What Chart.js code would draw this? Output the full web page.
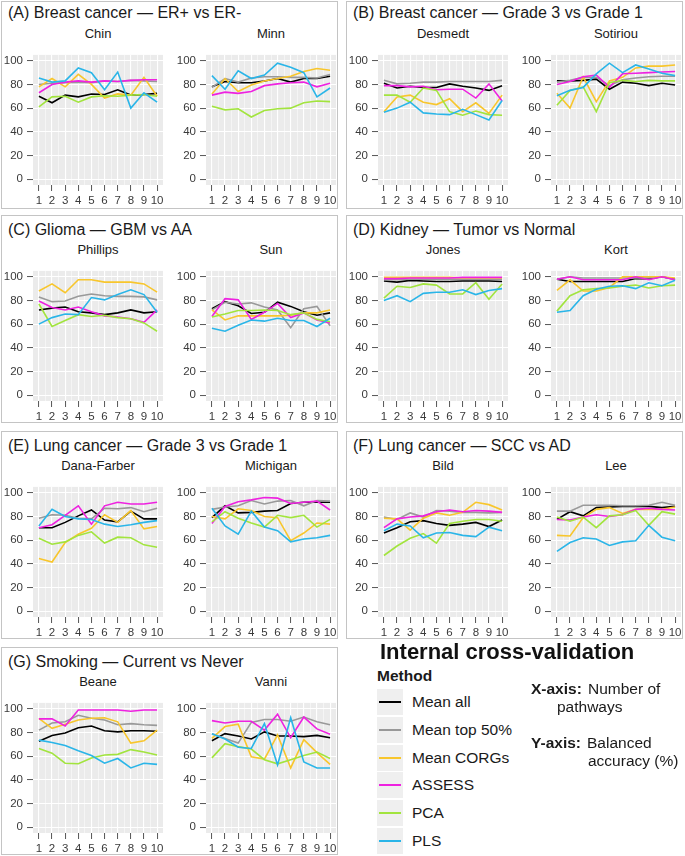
<!DOCTYPE html>
<html>
<head>
<meta charset="utf-8">
<script src="https://cdn.jsdelivr.net/npm/chart.js@4.4.1/dist/chart.umd.min.js"></script>
<style>
  html, body { margin: 0; padding: 0; background: #fff; }
  body { width: 685px; height: 856px; position: relative; overflow: hidden;
         font-family: "Liberation Sans", Arial, sans-serif; color: #1a1a1a; }
  .box { position: absolute; border: 1px solid #c4c4c4; box-sizing: border-box; }
  .title { position: absolute; font-size: 16px; line-height: 20px; white-space: nowrap; }
  .facet { position: absolute; font-size: 13px; line-height: 16px; text-align: center; white-space: nowrap; }
  canvas { position: absolute; }
  .lg { position: absolute; white-space: nowrap; font-size: 15.5px; line-height: 18px; }
  .key { position: absolute; left: 377px; width: 26px; height: 26px; background: #efefef; }
  .key span { position: absolute; left: 2px; right: 2px; top: 12px; height: 2px; }
</style>
</head>
<body>
<script>
// Internal cross-validation: 7 panels x 2 datasets, balanced accuracy vs number of pathways

const FONT = '"Liberation Sans", Arial, sans-serif';

const panelTitles = [
  '(A) Breast cancer — ER+ vs ER-',
  '(B) Breast cancer — Grade 3 vs Grade 1',
  '(C) Glioma — GBM vs AA',
  '(D) Kidney — Tumor vs Normal',
  '(E) Lung cancer — Grade 3 vs Grade 1',
  '(F) Lung cancer — SCC vs AD',
  '(G) Smoking — Current vs Never'
];
const datasetNames = ['Chin', 'Minn', 'Desmedt', 'Sotiriou', 'Phillips', 'Sun', 'Jones', 'Kort',
  'Dana-Farber', 'Michigan', 'Bild', 'Lee', 'Beane', 'Vanni'];
const pathways = [1, 2, 3, 4, 5, 6, 7, 8, 9, 10];
const yTicks = [0, 20, 40, 60, 80, 100];

const methods = ['Mean all', 'Mean top 50%', 'Mean CORGs', 'ASSESS', 'PCA', 'PLS'];
const methodColors = ['#000000', '#999999', '#F8C62C', '#EE22E0', '#A2E43E', '#2AB5E8'];

// one row per dataset, same order as datasetNames
const meanAll = [
  [70, 64.5, 71, 69.5, 72, 71.5, 75.5, 71, 71.5, 72.5],
  [78, 82.5, 81.5, 81.5, 83, 85, 82, 85, 85, 87],
  [81, 77, 78.5, 77.5, 77.5, 80.5, 78.5, 77, 75, 79],
  [83, 83, 83.5, 84.5, 76, 82, 81, 79, 81, 79.5],
  [72, 73.5, 74.5, 70.5, 69.5, 68, 69.5, 72, 69.5, 70.5],
  [73, 79, 75.5, 69, 70, 78.5, 75, 70.5, 67.5, 69.5],
  [96.5, 95.5, 97, 96.5, 96, 96, 96.5, 96.5, 96.5, 96],
  [98, 96, 96, 96, 96, 96, 98.5, 98.5, 100, 98],
  [70.5, 70.5, 75, 80.5, 85.5, 77, 75.5, 84.5, 78, 78],
  [79, 89, 83, 83.5, 84.5, 85, 91, 92, 92, 92],
  [66, 70.5, 75.5, 76.5, 74, 72.5, 73.5, 75, 71.5, 77],
  [77.5, 84, 80.5, 87.5, 88, 88.5, 88.5, 88.5, 87.5, 88.5],
  [72.5, 77.5, 79.5, 84, 85.5, 81.5, 80.5, 81.5, 81.5, 81],
  [73, 79, 77, 74.5, 80.5, 77, 77, 76.5, 77.5, 75.5]
];
const meanTop50 = [
  [80, 81, 81.5, 82, 81.5, 83, 82.5, 83.5, 83, 82.5],
  [77.5, 85, 82, 85.5, 86.5, 86.5, 86, 86, 85.5, 88.5],
  [83.5, 80.5, 81, 82, 82, 82.5, 82.5, 82.5, 82.5, 83.5],
  [82, 83.5, 86, 86, 79, 84, 85.5, 86.5, 87, 87],
  [83, 79, 79.5, 83.5, 85.5, 84, 83.5, 83.5, 83, 80.5],
  [72, 78.5, 77, 78, 74.5, 72, 57, 73, 75, 58.5],
  [97.5, 97.5, 98, 98, 98, 98, 98, 98, 98, 98],
  [98, 100, 99, 99, 99, 99, 99, 99, 100, 97.5],
  [78.5, 81.5, 81, 78.5, 78, 87, 86.5, 87.5, 84, 87],
  [86, 88, 89, 93.5, 90.5, 93, 93.5, 89, 93.5, 93],
  [79.5, 77.5, 83, 79.5, 85, 84.5, 83.5, 83.5, 83, 83.5],
  [84.5, 84.5, 89.5, 89.5, 89.5, 89, 89, 89.5, 92, 89.5],
  [82, 88, 89, 94.5, 92, 90.5, 86.5, 87.5, 86.5, 86],
  [79, 75, 71, 88.5, 91, 91, 89.5, 93, 89, 86.5]
];
const meanCorgs = [
  [78, 85, 78, 88.5, 80, 68.5, 72, 71, 86, 70],
  [72, 85, 74, 79.5, 83, 85, 87, 91, 93.5, 92],
  [57, 69.5, 71, 65, 63, 68, 57, 64.5, 55.5, 71],
  [72.5, 60, 86.5, 65.5, 83, 86, 94, 95.5, 95.5, 96.5],
  [88, 94, 86.5, 97.5, 97.5, 95.5, 95.5, 95.5, 94, 87],
  [72, 63.5, 67, 67, 67, 67, 67.5, 69.5, 69.5, 72],
  [99.5, 99.5, 99.5, 99.5, 99.5, 99.5, 99, 99, 99, 99],
  [88.5, 97.5, 88, 88, 91, 100, 100, 100, 100, 99],
  [44.5, 41.5, 58, 65, 70, 81.5, 75, 85, 69.5, 71.5],
  [80, 78, 86.5, 85, 80, 79, 59.5, 66, 74.5, 73.5],
  [78.5, 78, 68.5, 78.5, 83, 81, 83.5, 92, 90, 85.5],
  [64, 63.5, 79, 86, 87.5, 82.5, 86, 86, 86, 88],
  [92, 83.5, 87, 90.5, 92, 92.5, 89, 71, 73, 82],
  [75, 85, 87, 59.5, 57.5, 78, 50, 74, 63, 53]
];
const assess = [
  [73, 80, 82, 83, 82, 83, 82.5, 83.5, 84, 84],
  [71, 73.5, 72.5, 74, 79, 80.5, 81.5, 82, 78, 81],
  [79, 79, 78, 78.5, 75.5, 76, 76, 68.5, 80.5, 66],
  [80, 82.5, 86.5, 88, 77.5, 89, 89.5, 90, 90.5, 91],
  [79.5, 74, 72, 74.5, 70.5, 67, 66, 64.5, 61.5, 72],
  [66.5, 81.5, 80.5, 64, 70, 77.5, 65.5, 69.5, 63.5, 61],
  [98.5, 98.5, 99, 99, 99, 99, 99.5, 99.5, 99.5, 99.5],
  [98, 100, 97.5, 97.5, 97.5, 97.5, 100, 97.5, 100, 97.5],
  [70.5, 73, 81, 89, 73.5, 89, 92, 90.5, 90.5, 92],
  [74, 88.5, 92.5, 94, 96, 95.5, 91, 92, 93, 85.5],
  [70.5, 78, 79.5, 80.5, 84, 85.5, 84, 85, 84.5, 83.5],
  [77.5, 77, 79.5, 81.5, 80, 81.5, 86, 87, 86, 85.5],
  [91.5, 91.5, 85.5, 99, 99, 99, 99, 98, 99, 99],
  [90, 88, 89.5, 89.5, 82, 95.5, 75.5, 93, 83, 78.5]
];
const pca = [
  [61, 69.5, 70, 65, 69.5, 70.5, 70, 71, 71.5, 70],
  [61.5, 58.5, 59.5, 52.5, 58, 59.5, 60, 64.5, 66, 65.5],
  [71, 71, 65, 77, 75, 57, 54, 57.5, 54.5, 54],
  [62.5, 75, 78, 57, 81.5, 83.5, 82.5, 83.5, 83, 83],
  [77, 58, 63, 68, 66.5, 67.5, 65.5, 64.5, 61, 54],
  [66, 68.5, 71.5, 71.5, 72, 71.5, 68, 69.5, 64, 62],
  [82, 92, 91, 94, 93, 85.5, 85.5, 95, 81, 94],
  [71, 84, 89, 90, 90.5, 92, 93, 90.5, 92.5, 93],
  [61.5, 56.5, 58.5, 64, 67, 57.5, 62.5, 62, 56, 54],
  [75.5, 84, 78.5, 74.5, 71, 81, 79, 81, 71, 77.5],
  [47, 55, 61.5, 65.5, 57.5, 74, 76, 77.5, 77.5, 76],
  [79.5, 76, 79.5, 70.5, 80.5, 81.5, 85, 72.5, 84, 82],
  [66.5, 62.5, 54, 53.5, 58.5, 61, 61.5, 65.5, 63.5, 61],
  [58.5, 70.5, 68, 66, 57, 53.5, 57, 60.5, 63.5, 58]
];
const pls = [
  [85.5, 82, 83, 94, 90, 75.5, 90.5, 60, 73, 65],
  [87.5, 76, 91.5, 85, 88, 98, 94.5, 90, 69.5, 77],
  [56.5, 60, 65, 56, 55, 54.5, 59, 54.5, 50, 66.5],
  [70.5, 75, 77.5, 89, 98, 90, 96.5, 93, 89.5, 87.5],
  [60, 65.5, 68.5, 68, 82.5, 80.5, 85, 89, 85, 70],
  [56.5, 54, 59, 63.5, 62.5, 65, 63, 63, 58, 65],
  [80, 84, 79, 86, 87, 87, 89, 85, 88.5, 90],
  [70, 71.5, 84, 89.5, 92, 92.5, 90, 95, 92.5, 97],
  [72, 86, 80, 78, 77.5, 73.5, 71.5, 73, 75, 76.5],
  [87, 72, 65, 84.5, 71, 68, 58.5, 61, 62, 64],
  [68, 73.5, 72, 62, 66, 66.5, 64, 63, 71, 68],
  [50.5, 58, 62, 61, 55.5, 58.5, 59.5, 72.5, 62.5, 59.5],
  [73.5, 71.5, 69, 64.5, 60.5, 54, 58, 50, 54, 53],
  [79, 74.5, 67.5, 66.5, 87.5, 52.5, 92.5, 55, 50, 50]
];
const seriesByMethod = [meanAll, meanTop50, meanCorgs, assess, pca, pls];

// layout (px)
const PANEL_LEFT = [1, 346];
const BOX_TOP = [1, 215, 431, 647];
const BOX_W = 337, BOX_H = 208;
const TITLE_Y = [13, 230, 446, 662];
const GREY_TOP = [44, 260, 476, 692];
const GREY_W = 130, GREY_H = 141;
const SUB_OFFSET = [32, 205];
const AXIS_W = 33, AXIS_H = 30, PAD_R = 5;

// major + minor grid positions, ggplot style
const xGrid = pathways.flatMap((v, k) => k < pathways.length - 1 ? [v, v + 0.5] : [v]);
const yGrid = yTicks.flatMap((v, k) => k < yTicks.length - 1 ? [v, v + 10] : [v]);

const panelBg = {
  id: 'panelBg',
  beforeDraw(chart) {
    const { ctx, chartArea: a } = chart;
    ctx.save();
    ctx.fillStyle = '#ebebeb';
    ctx.fillRect(a.left, a.top, a.right - a.left, a.bottom - a.top);
    ctx.restore();
  }
};

function addDiv(cls, text, style) {
  const d = document.createElement('div');
  d.className = cls;
  if (text != null) d.textContent = text;
  Object.assign(d.style, style);
  document.body.appendChild(d);
  return d;
}

// panel frames and titles
panelTitles.forEach((t, p) => {
  const row = Math.floor(p / 2), col = p % 2;
  addDiv('box', null, { left: PANEL_LEFT[col] + 'px', top: BOX_TOP[row] + 'px', width: BOX_W + 'px', height: BOX_H + 'px' });
  addDiv('title', t, { left: (PANEL_LEFT[col] + 7) + 'px', top: (TITLE_Y[row] - 10) + 'px' });
});

function makeChart(i) {
  const p = Math.floor(i / 2), side = i % 2;
  const row = Math.floor(p / 2), col = p % 2;
  const greyLeft = PANEL_LEFT[col] + SUB_OFFSET[side];

  addDiv('facet', datasetNames[i], {
    left: greyLeft + 'px', width: GREY_W + 'px', top: (GREY_TOP[row] - 10.5 - 8) + 'px'
  });

  const canvas = document.createElement('canvas');
  canvas.width = AXIS_W + GREY_W + PAD_R;
  canvas.height = GREY_H + AXIS_H;
  canvas.style.left = (greyLeft - AXIS_W) + 'px';
  canvas.style.top = GREY_TOP[row] + 'px';
  canvas.style.width = canvas.width + 'px';
  canvas.style.height = canvas.height + 'px';
  document.body.appendChild(canvas);

  const datasets = methods.map((m, k) => ({
    label: m,
    data: seriesByMethod[k][i].map((v, j) => ({ x: pathways[j], y: v })),
    borderColor: methodColors[k],
    borderWidth: 1.6,
    pointRadius: 0,
    fill: false,
    tension: 0,
    order: methods.length - 1 - k
  }));

  const tickFont = { family: FONT, size: 11.5 };
  new Chart(canvas, {
    type: 'line',
    data: { datasets },
    options: {
      responsive: false,
      animation: false,
      devicePixelRatio: 1,
      layout: { autoPadding: false, padding: { left: 0, right: PAD_R, top: 0, bottom: 0 } },
      plugins: { legend: { display: false }, tooltip: { enabled: false } },
      scales: {
        x: {
          type: 'linear', min: 0.55, max: 10.45,
          afterBuildTicks: s => { s.ticks = xGrid.map(v => ({ value: v })); },
          afterFit: s => { s.height = AXIS_H; },
          border: { display: false },
          ticks: {
            autoSkip: false, maxRotation: 0, padding: 3, color: '#3a3a3a', font: tickFont,
            callback: v => Number.isInteger(v) ? String(v) : ''
          },
          grid: {
            color: '#ffffff',
            lineWidth: c => Number.isInteger(c.tick.value) ? 1.1 : 0.5,
            tickLength: 6, tickWidth: 1,
            tickColor: c => Number.isInteger(c.tick.value) ? '#555555' : 'rgba(0,0,0,0)'
          }
        },
        y: {
          min: -5, max: 105,
          afterBuildTicks: s => { s.ticks = yGrid.map(v => ({ value: v })); },
          afterFit: s => { s.width = AXIS_W; },
          border: { display: false },
          ticks: {
            padding: 4, color: '#3a3a3a', font: tickFont,
            callback: v => v % 20 === 0 ? String(v) : ''
          },
          grid: {
            color: '#ffffff',
            lineWidth: c => c.tick.value % 20 === 0 ? 1.1 : 0.5,
            tickLength: 6, tickWidth: 1,
            tickColor: c => c.tick.value % 20 === 0 ? '#555555' : 'rgba(0,0,0,0)'
          }
        }
      }
    },
    plugins: [panelBg]
  });
}

datasetNames.forEach((_, i) => makeChart(i));

// legend block (bottom right)
addDiv('lg', 'Internal cross-validation', { left: '380px', top: '638px', fontSize: '22px', lineHeight: '28px', fontWeight: 'bold', color: '#111' });
addDiv('lg', 'Method', { left: '377px', top: '667px', fontWeight: 'bold' });
methods.forEach((m, k) => {
  const yc = Math.round(702.3 + k * 27.7);
  const key = addDiv('key', null, { top: (yc - 13) + 'px' });
  const line = document.createElement('span');
  line.style.background = methodColors[k];
  key.appendChild(line);
  addDiv('lg', m, { left: '412px', top: (yc - 9) + 'px' });
});
addDiv('lg', 'X-axis:', { left: '531px', top: '680px', fontWeight: 'bold' });
addDiv('lg', 'Number of', { left: '588px', top: '680px' });
addDiv('lg', 'pathways', { left: '557px', top: '698px' });
addDiv('lg', 'Y-axis:', { left: '531px', top: '734px', fontWeight: 'bold' });
addDiv('lg', 'Balanced', { left: '587px', top: '734px' });
addDiv('lg', 'accuracy (%)', { left: '588px', top: '752px' });
</script>
</body>
</html>
